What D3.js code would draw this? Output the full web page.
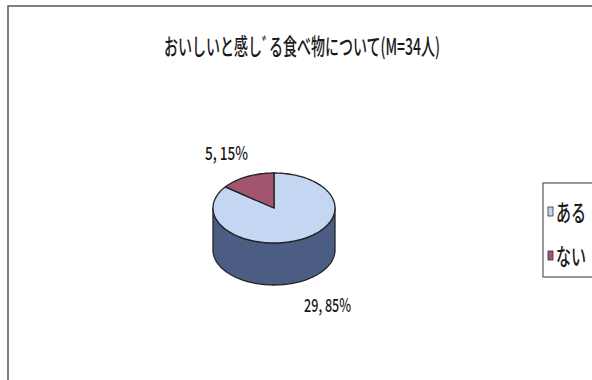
<!DOCTYPE html>
<html>
<head>
<meta charset="UTF-8">
<title>おいしいと感じる食べ物について</title>
<script src="https://d3js.org/d3.v7.min.js"></script>
<style>
  body { margin: 0; background: #fff; }
  text { font-family: "Noto Sans CJK JP", "DejaVu Sans", sans-serif; fill: #1a1a1a; font-weight: 500; }
</style>
</head>
<body>
<svg id="chart" width="592" height="380"></svg>
<script>
// data
var categories = ["ある", "ない"];
var counts = [29, 5];
var percents = [85, 15];
var colors = ["#c3d6f2", "#a3546f"];
var sideColors = ["#4c5d84", "#6e3248"];
var chartTitle = "おいしいと感しﾞる食べ物について(M=34人)";

var svg = d3.select("#chart");

// outer frame
svg.append("rect")
  .attr("x", 8).attr("y", 6)
  .attr("width", 620).attr("height", 420)
  .attr("fill", "none")
  .attr("stroke", "#555").attr("stroke-width", 1.5);

svg.append("text")
  .attr("x", 164).attr("y", 55)
  .attr("font-size", 23)
  .attr("textLength", 276)
  .attr("lengthAdjust", "spacingAndGlyphs")
  .text(chartTitle);

// pie geometry
var cx = 274, cy = 208, rx = 61, ry = 35, depth = 42;

var pie = d3.pie().sort(null);
var arcs = pie(counts);

function pt(a, dy) {
  return [cx + rx * Math.sin(a), cy - ry * Math.cos(a) + (dy || 0)];
}

function sample(a0, a1, dy) {
  var n = Math.max(2, Math.ceil(Math.abs(a1 - a0) / 0.03));
  return d3.range(n + 1).map(function (i) { return pt(a0 + (a1 - a0) * i / n, dy); });
}

var line = d3.line();
var g = svg.append("g");

// sides (only the front half, from PI/2 to 3PI/2)
arcs.forEach(function (d, i) {
  var a0 = Math.max(d.startAngle, Math.PI / 2);
  var a1 = Math.min(d.endAngle, 3 * Math.PI / 2);
  if (a1 <= a0) return;
  var pts = sample(a0, a1, 0).concat(sample(a1, a0, depth));
  g.append("path")
    .attr("d", line(pts) + "Z")
    .attr("fill", sideColors[i])
    .attr("stroke", "#222").attr("stroke-width", 1.3)
    .attr("stroke-linejoin", "round");
});

// top faces
arcs.forEach(function (d, i) {
  var pts = [[cx, cy]].concat(sample(d.startAngle, d.endAngle, 0));
  g.append("path")
    .attr("d", line(pts) + "Z")
    .attr("fill", colors[i])
    .attr("stroke", "#222").attr("stroke-width", 1.3)
    .attr("stroke-linejoin", "round");
});

// data labels
var labelLen = [47, 43];
var labelShift = [6, 0];
arcs.forEach(function (d, i) {
  var mid = (d.startAngle + d.endAngle) / 2;
  var k = 1.75;
  var x = cx + rx * k * Math.sin(mid);
  var y = cy - ry * k * Math.cos(mid);
  if (Math.cos(mid) < 0) y += depth;
  svg.append("text")
    .attr("x", x - labelLen[i] / 2 + labelShift[i])
    .attr("y", y + 7)
    .attr("font-size", 18)
    .attr("textLength", labelLen[i])
    .attr("lengthAdjust", "spacingAndGlyphs")
    .text(counts[i] + ", " + percents[i] + "%");
});

// legend
var legend = svg.append("g");
legend.append("rect")
  .attr("x", 543).attr("y", 183)
  .attr("width", 70).attr("height", 94)
  .attr("fill", "#fff")
  .attr("stroke", "#555").attr("stroke-width", 1.2);

var legendY = d3.scalePoint().domain(categories).range([212, 256]);
categories.forEach(function (c, i) {
  legend.append("rect")
    .attr("x", 548).attr("y", legendY(c) - 5)
    .attr("width", 5).attr("height", 9)
    .attr("fill", colors[i])
    .attr("stroke", "#333").attr("stroke-width", 0.8);
  legend.append("text")
    .attr("x", 556).attr("y", legendY(c) + 9)
    .attr("font-size", 23)
    .attr("textLength", 30)
    .attr("lengthAdjust", "spacingAndGlyphs")
    .text(c);
});
</script>
</body>
</html>
